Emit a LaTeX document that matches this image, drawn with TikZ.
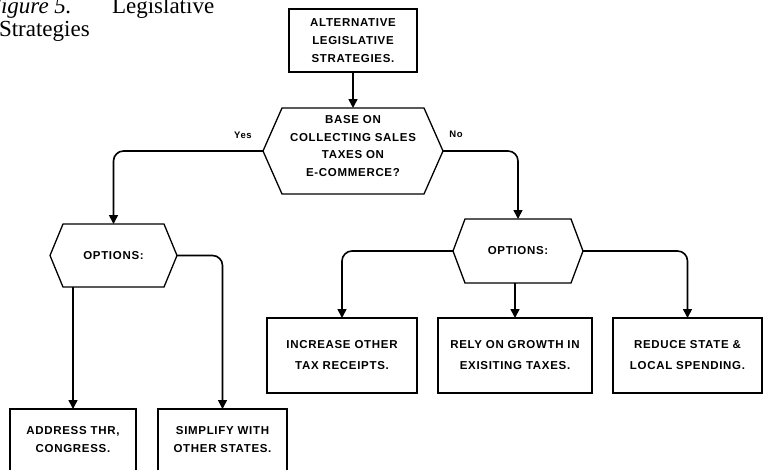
\documentclass[tikz,border=0pt]{standalone}
\usepackage{fontspec}
\setmainfont{Liberation Serif}
\newfontfamily\diagfont[LetterSpace=6]{Liberation Sans}
\usetikzlibrary{arrows.meta}
\newcommand\hexdraw[2]{\draw[line width=1.3pt] (#1.west) -- ([xshift=#2]#1.north west) -- ([xshift=-#2]#1.north east) -- (#1.east) -- ([xshift=-#2]#1.south east) -- ([xshift=#2]#1.south west) -- cycle;}
\begin{document}
\begin{tikzpicture}[x=1pt,y=-1pt,
  every node/.style={inner sep=0pt,outer sep=0pt},
  boxtext/.style={font=\diagfont\bfseries\fontsize{11.5}{18}\selectfont, align=center},
  stepbox/.style={boxtext, draw, line width=1.3pt},
  hexnode/.style={boxtext, draw=none},
  lbl/.style={font=\diagfont\bfseries\fontsize{9.5}{11}\selectfont},
  ttl/.style={anchor=base west, font=\fontsize{23}{26}\selectfont},
  conn/.style={line width=1.6pt, rounded corners=10pt, -{Triangle[width=9pt,length=9pt]}}
]
\useasboundingbox (0,0) rectangle (776,469);
\clip (0,0) rectangle (776,469);

% title
\node[ttl] (t1) at (-13,13) {\itshape Figure 5.};
\node[ttl] (t2) at (112,13) {Legislative};
\node[ttl] (t3) at (-1,36) {Strategies};

% nodes
\node[stepbox, minimum width=128pt, minimum height=63pt] (top) at (353,40.5) {ALTERNATIVE\\LEGISLATIVE\\STRATEGIES.};
\node[hexnode, minimum width=180pt, minimum height=86pt] (dec) at (353,151) {};
\node[boxtext, font=\diagfont\bfseries\fontsize{11.5}{17.5}\selectfont] (dectext) at (353,146) {BASE ON\\COLLECTING SALES\\TAXES ON\\E-COMMERCE?};
\node[hexnode, minimum width=127pt, minimum height=63pt] (lo) at (113.5,255.5) {OPTIONS:};
\node[hexnode, minimum width=130pt, minimum height=64pt] (ro) at (518,251) {OPTIONS:};
\hexdraw{dec}{19pt}
\hexdraw{lo}{13pt}
\hexdraw{ro}{12pt}

\node[stepbox, minimum width=150pt, minimum height=75pt] (inc) at (342,355.5) {INCREASE OTHER\\[3pt]TAX RECEIPTS.};
\node[stepbox, minimum width=154pt, minimum height=75pt] (rely) at (515,355.5) {RELY ON GROWTH IN\\[3pt]EXISITING TAXES.};
\node[stepbox, minimum width=149pt, minimum height=75pt] (red) at (687.5,355.5) {REDUCE STATE \&\\[3pt]LOCAL SPENDING.};
\node[stepbox, minimum width=126pt, minimum height=62pt] (addr) at (73,440) {ADDRESS THR,\\CONGRESS.};
\node[stepbox, minimum width=129pt, minimum height=62pt] (simp) at (222.5,440) {SIMPLIFY WITH\\OTHER STATES.};

% labels
\node[lbl] (yes) at (243,135) {Yes};
\node[lbl] (no) at (456,134) {No};

% connectors
\draw[conn] (top.south) -- (dec.north);
\draw[conn] (dec.west) -| (lo.north);
\draw[conn] (dec.east) -| (ro.north);
\draw[conn] (lo.south -| addr.north) -- (addr.north);
\draw[conn] (lo.east) -| (simp.north);
\draw[conn] (ro.west) -| (inc.north);
\draw[conn] (ro.south -| rely.north) -- (rely.north);
\draw[conn] (ro.east) -| (red.north);
\end{tikzpicture}
\end{document}
